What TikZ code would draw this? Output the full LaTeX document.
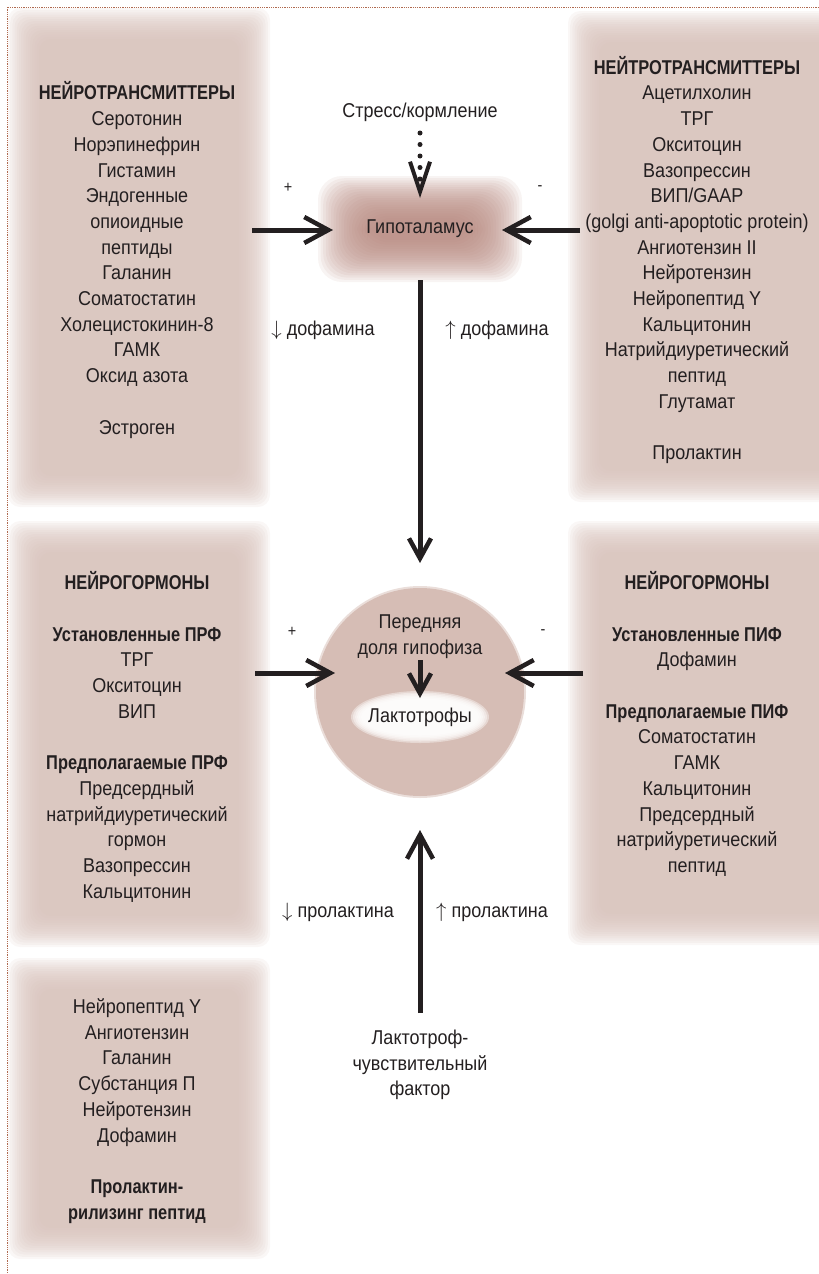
\documentclass[tikz,border=0pt]{standalone}
\usepackage{fontspec}
\setmainfont{Liberation Sans}[FakeStretch=0.9,BoldFeatures={FakeStretch=0.82}]
\usetikzlibrary{arrows.meta}

\definecolor{boxfill}{RGB}{214,191,184}
\definecolor{hypfill}{RGB}{180,132,122}
\definecolor{lobefill}{RGB}{214,189,181}
\definecolor{inktext}{RGB}{35,31,32}
\definecolor{framedots}{RGB}{176,106,80}

% soft-edged panel: x1 y1 x2 y2 colour step
\newcommand{\softbox}[6]{%
  \foreach \k in {0,...,14}{%
    \fill[#5,opacity=0.125,rounded corners=12pt]
      ({#1+#6*\k},{#2+#6*\k}) rectangle ({#3-#6*\k},{#4-#6*\k});
  }}

\begin{document}
\begin{tikzpicture}[x=1pt,y=-1pt,
  txt/.style={text=inktext,font=\fontsize{20}{25.7}\selectfont,align=center,inner sep=0pt},
  sign/.style={text=inktext,font=\fontsize{16}{18}\selectfont,inner sep=0pt},
  push/.style={draw=inktext,line width=5pt,-{Straight Barb[length=24pt,width=26pt,line width=4.5pt]}},
  shortpush/.style={draw=inktext,line width=5pt,-{Straight Barb[length=20pt,width=22pt,line width=4.5pt]}}]
\useasboundingbox (0,0) rectangle (819,1274);

% frame
\draw[framedots,densely dotted,line width=0.8pt] (819,7) -- (7,7) -- (7,1274);

% panels
\softbox{8}{8}{270}{507}{boxfill}{2.2}
\softbox{8}{521}{270}{947}{boxfill}{2.2}
\softbox{8}{958}{270}{1259}{boxfill}{2.2}
\softbox{568}{11}{860}{502}{boxfill}{2.2}
\softbox{568}{521}{860}{945}{boxfill}{2.2}

% hypothalamus glow
\foreach \k in {0,...,19}
  \fill[hypfill,opacity=0.09,rounded corners=24pt]
    ({318+2.6*\k},{176+2.2*\k}) rectangle ({522-2.6*\k},{282-2.2*\k});

% pituitary
\fill[lobefill,opacity=0.5] (420,692) circle (106pt);
\fill[lobefill] (420,692) circle (104pt);
\foreach \k in {0,...,5}
  \fill[white,opacity=0.4] (420,717) ellipse [x radius={(69-2*\k)*1pt}, y radius={(26-1.5*\k)*1pt}];

% texts
\node[txt] (ntl) at (137,260) {\textbf{НЕЙРОТРАНСМИТТЕРЫ}\\Серотонин\\Норэпинефрин\\Гистамин\\Эндогенные\\опиоидные\\пептиды\\Галанин\\Соматостатин\\Холецистокинин-8\\ГАМК\\Оксид азота\\[25.7pt]Эстроген};
\node[txt] (ntr) at (697,260) {\textbf{НЕЙТРОТРАНСМИТТЕРЫ}\\Ацетилхолин\\ТРГ\\Окситоцин\\Вазопрессин\\ВИП/GAAP\\(golgi anti-apoptotic protein)\\Ангиотензин II\\Нейротензин\\Нейропептид Y\\Кальцитонин\\Натрийдиуретический\\пептид\\Глутамат\\[25.7pt]Пролактин};
\node[txt] (nml) at (137,737) {\textbf{НЕЙРОГОРМОНЫ}\\[25.7pt]\textbf{Установленные ПРФ}\\ТРГ\\Окситоцин\\ВИП\\[25.7pt]\textbf{Предполагаемые ПРФ}\\Предсердный\\натрийдиуретический\\гормон\\Вазопрессин\\Кальцитонин};
\node[txt] (nmr) at (697,724) {\textbf{НЕЙРОГОРМОНЫ}\\[25.7pt]\textbf{Установленные ПИФ}\\Дофамин\\[25.7pt]\textbf{Предполагаемые ПИФ}\\Соматостатин\\ГАМК\\Кальцитонин\\Предсердный\\натрийуретический\\пептид};
\node[txt] (nbl) at (137,1111) {Нейропептид Y\\Ангиотензин\\Галанин\\Субстанция П\\Нейротензин\\Дофамин\\[25.7pt]\textbf{Пролактин-}\\\textbf{рилизинг пептид}};

\node[txt] (stress) at (420,112) {Стресс/кормление};
\node[txt] (hyp) at (420,229) {Гипоталамус};
\node[txt] (lobe) at (420,637) {Передняя\\доля гипофиза};
\node[txt] (lacto) at (420,717) {Лактотрофы};
\node[txt] (lsf) at (420,1065) {Лактотроф-\\чувствительный\\фактор};

\node[txt] (dopdown) at (323,330) {$\downarrow$ дофамина};
\node[txt] (dopup) at (497,330) {$\uparrow$ дофамина};
\node[txt] (prldown) at (338,912) {$\downarrow$ пролактина};
\node[txt] (prlup) at (492,912) {$\uparrow$ пролактина};

\node[sign] (plustop) at (288,188) {+};
\node[sign] (minustop) at (540,188) {-};
\node[sign] (plusmid) at (292,632) {+};
\node[sign] (minusmid) at (543,632) {-};

% arrow ends
\coordinate (fromTL) at (252,230);
\coordinate (hypW) at (333,230);
\coordinate (fromTR) at (580,230);
\coordinate (hypE) at (502,230);
\coordinate (stressS) at (420,133);
\coordinate (hypN) at (420,198);
\coordinate (hypS) at (420,280);
\coordinate (lobeN) at (420,563);
\coordinate (fromML) at (255,673);
\coordinate (lobeW) at (335,673);
\coordinate (fromMR) at (583,673);
\coordinate (lobeE) at (505,673);
\coordinate (lobeC) at (420,660);
\coordinate (lactoN) at (420,698);
\coordinate (lsfN) at (420,1013);
\coordinate (lobeS) at (420,830);

% connectors
\draw[push] (fromTL) -- (hypW);
\draw[push] (fromTR) -- (hypE);
\draw[draw=inktext,line width=5pt,line cap=round,dash pattern=on 0pt off 11.5pt,
  -{Straight Barb[length=30pt,width=20pt,line width=4pt]}] (stressS) -- (hypN);
\draw[shortpush] (hypS) -- (lobeN);
\draw[push] (fromML) -- (lobeW);
\draw[push] (fromMR) -- (lobeE);
\draw[shortpush] (lobeC) -- (lactoN);
\draw[push] (lsfN) -- (lobeS);
\end{tikzpicture}
\end{document}
